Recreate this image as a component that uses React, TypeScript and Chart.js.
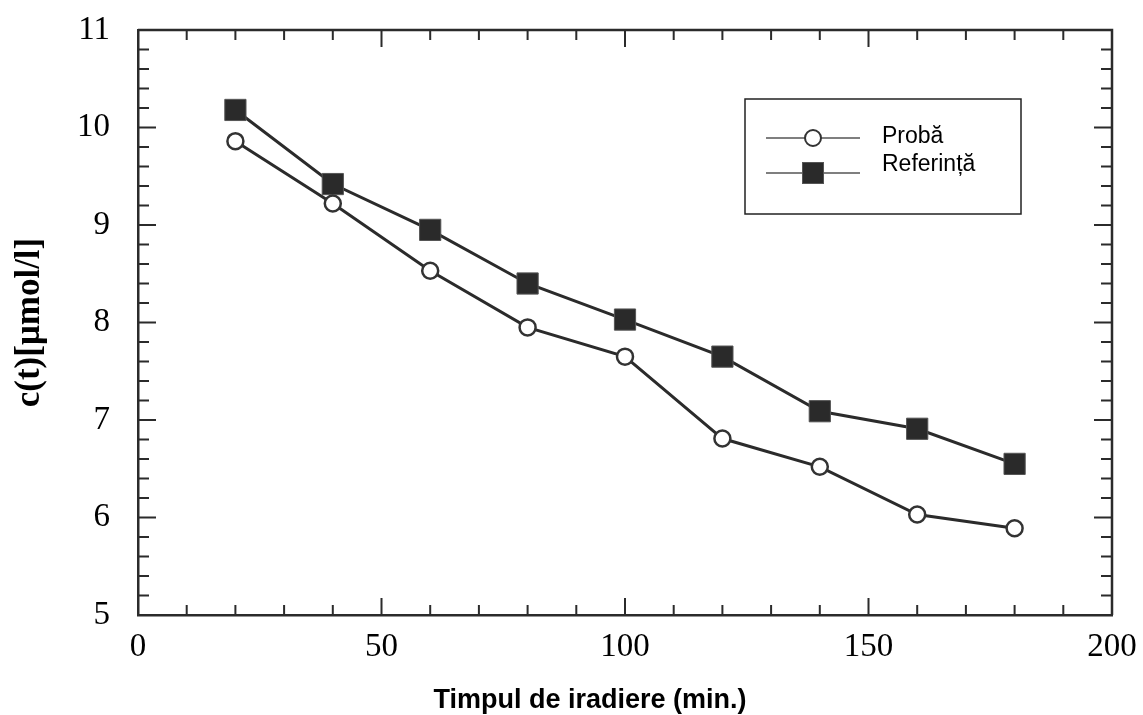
import { useEffect, useRef } from "react";
import { Chart, registerables } from "chart.js";
Chart.register(...registerables);

const times = [20, 40, 60, 80, 100, 120, 140, 160, 180];
const proba = [9.86, 9.22, 8.53, 7.95, 7.65, 6.81, 6.52, 6.03, 5.89];
const referinta = [10.18, 9.42, 8.95, 8.4, 8.03, 7.65, 7.09, 6.91, 6.55];
const seriesNames = ["Probă", "Referință"];
const xTitle = "Timpul de iradiere (min.)";
const yTitle = "c(t)[μmol/l]";
const xRange = [0, 200];
const yRange = [5, 11];

const INK = "#2b2b2b";

const framePlugin = {
  id: "frameTicks",
  beforeDatasetsDraw(chart: any) {
    const { ctx, chartArea, scales } = chart;
    const { left, right, top, bottom } = chartArea;
    const x = scales.x;
    const y = scales.y;
    ctx.save();
    ctx.strokeStyle = INK;
    ctx.lineWidth = 2;
    ctx.beginPath();
    for (let v = xRange[0]; v <= xRange[1]; v += 10) {
      const px = x.getPixelForValue(v);
      const len = v % 50 === 0 ? 17 : 10;
      ctx.moveTo(px, bottom);
      ctx.lineTo(px, bottom - len);
      ctx.moveTo(px, top);
      ctx.lineTo(px, top + len);
    }
    for (let i = 0; i <= 30; i++) {
      const v = yRange[0] + i * 0.2;
      const py = y.getPixelForValue(v);
      const len = i % 5 === 0 ? 18 : 11;
      ctx.moveTo(left, py);
      ctx.lineTo(left + len, py);
      ctx.moveTo(right, py);
      ctx.lineTo(right - len, py);
    }
    ctx.stroke();
    ctx.lineWidth = 2.5;
    ctx.beginPath();
    ctx.moveTo(left, top);
    ctx.lineTo(right, top);
    ctx.lineTo(right, bottom);
    ctx.stroke();
    ctx.restore();
  },
  afterDraw(chart: any) {
    const { ctx } = chart;
    ctx.save();
    // x axis title
    ctx.fillStyle = "#000";
    ctx.font = "bold 27px 'Liberation Sans', Arial, sans-serif";
    ctx.textAlign = "center";
    ctx.textBaseline = "alphabetic";
    ctx.fillText(xTitle, 590, 708);

    // legend box
    const bx = 745, by = 99, bw = 276, bh = 115;
    ctx.strokeStyle = "#222";
    ctx.lineWidth = 1.5;
    ctx.strokeRect(bx, by, bw, bh);

    const ds = chart.data.datasets;
    const rows = [138, 173];
    const textY = [143, 171];
    ds.forEach((d: any, i: number) => {
      const yy = rows[i];
      ctx.strokeStyle = "#555";
      ctx.lineWidth = 1.5;
      ctx.beginPath();
      ctx.moveTo(766, yy);
      ctx.lineTo(860, yy);
      ctx.stroke();
      ctx.beginPath();
      if (d.pointStyle === "rect") {
        ctx.fillStyle = d.pointBackgroundColor;
        ctx.fillRect(813 - 10.5, yy - 10.5, 21, 21);
        ctx.strokeStyle = d.pointBorderColor;
        ctx.lineWidth = 1;
        ctx.strokeRect(813 - 10.5, yy - 10.5, 21, 21);
      } else {
        ctx.arc(813, yy, 8, 0, Math.PI * 2);
        ctx.fillStyle = "#fff";
        ctx.fill();
        ctx.strokeStyle = d.pointBorderColor;
        ctx.lineWidth = 2;
        ctx.stroke();
      }
      ctx.fillStyle = "#000";
      ctx.font = "23px 'Liberation Sans', Arial, sans-serif";
      ctx.textAlign = "left";
      ctx.fillText(d.label, 882, textY[i]);
    });
    ctx.restore();
  },
};

export default function App() {
  const ref = useRef<HTMLCanvasElement | null>(null);
  useEffect(() => {
    if (!ref.current) return;
    const chart = new Chart(ref.current, {
      type: "line",
      data: {
        datasets: [
          {
            label: seriesNames[0],
            data: times.map((t, i) => ({ x: t, y: proba[i] })),
            borderColor: INK,
            borderWidth: 3,
            pointStyle: "circle",
            pointRadius: 8,
            pointBackgroundColor: "#fff",
            pointBorderColor: "#333",
            pointBorderWidth: 2.5,
            tension: 0,
          },
          {
            label: seriesNames[1],
            data: times.map((t, i) => ({ x: t, y: referinta[i] })),
            borderColor: INK,
            borderWidth: 3,
            pointStyle: "rect",
            pointRadius: 15,
            pointBackgroundColor: "#2a2a2a",
            pointBorderColor: "#555",
            pointBorderWidth: 1,
            tension: 0,
          },
        ],
      },
      options: {
        animation: false,
        responsive: false,
        devicePixelRatio: 1,
        layout: { padding: { left: 0, right: 31, top: 30, bottom: 0 } },
        plugins: { legend: { display: false }, tooltip: { enabled: false } },
        scales: {
          x: {
            type: "linear",
            min: xRange[0],
            max: xRange[1],
            ticks: {
              stepSize: 50,
              color: "#000",
              padding: 13,
              font: { family: "'Liberation Serif', 'Times New Roman', serif", size: 33 },
            },
            grid: { display: false, drawTicks: false },
            border: { display: true, color: INK, width: 2.5 },
            afterFit: (s: any) => {
              s.height = 100;
              s.paddingLeft = 0;
              s.paddingRight = 0;
            },
          },
          y: {
            min: yRange[0],
            max: yRange[1],
            ticks: {
              stepSize: 1,
              color: "#000",
              padding: 28,
              font: { family: "'Liberation Serif', 'Times New Roman', serif", size: 33 },
            },
            grid: { display: false, drawTicks: false },
            border: { display: true, color: INK, width: 2.5 },
            title: {
              display: true,
              text: yTitle,
              color: "#000",
              padding: { top: 9, bottom: 0 },
              font: { family: "'Liberation Serif', 'Times New Roman', serif", size: 35, weight: "bold" },
            },
            afterFit: (s: any) => {
              s.width = 138;
              s.paddingTop = 0;
              s.paddingBottom = 0;
            },
          },
        },
      },
      plugins: [framePlugin],
    } as any);
    return () => chart.destroy();
  }, []);
  return (
    <div style={{ position: "absolute", left: 0, top: 0, width: 1143, height: 715 }}>
      <canvas ref={ref} width={1143} height={715} style={{ display: "block" }} />
    </div>
  );
}
